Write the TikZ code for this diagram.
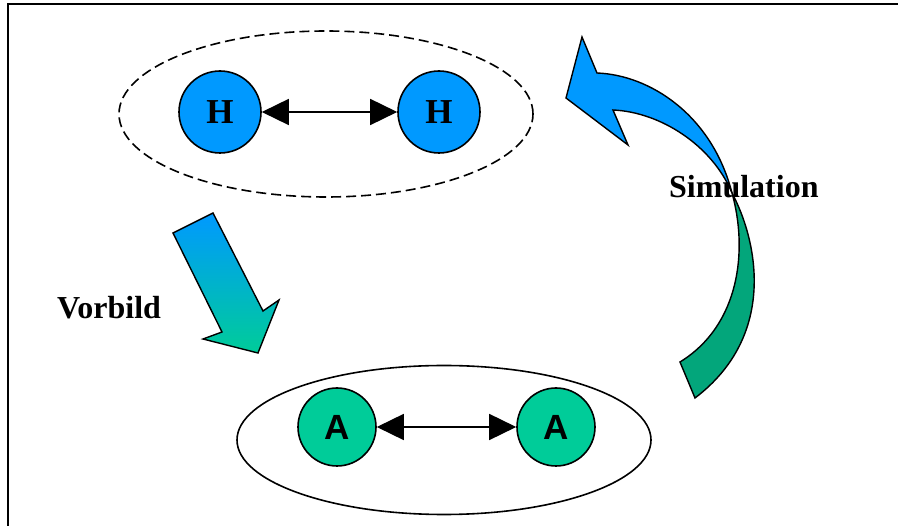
\documentclass[tikz,border=0pt]{standalone}
\usepackage{fontspec}
\setmainfont{Liberation Serif}
\newfontfamily\arialfont{Liberation Sans}
\usetikzlibrary{shapes.geometric,arrows.meta}
\definecolor{hblue}{HTML}{0099FF}
\definecolor{agreen}{HTML}{00CC99}
\definecolor{dgreen}{HTML}{03A67B}
\tikzset{
  hatom/.style={circle,draw=black,line width=1.6pt,fill=hblue,minimum size=82pt,inner sep=0pt,
    font=\fontsize{35}{35}\selectfont\bfseries},
  aatom/.style={circle,draw=black,line width=1.6pt,fill=agreen,minimum size=78pt,inner sep=0pt,
    font=\arialfont\fontsize{35}{35}\selectfont\bfseries},
  dblarrow/.style={line width=1.6pt,{Triangle[length=27pt,width=26pt]}-{Triangle[length=27pt,width=26pt]}},
  group/.style={ellipse,draw=black,line width=1.6pt,inner sep=0pt},
  lbl/.style={font=\fontsize{32}{32}\selectfont\bfseries,inner sep=0pt,anchor=base west},
  bigarrow/.style={draw=black,line width=1.4pt,line join=miter}
}
\begin{document}
\begin{tikzpicture}[x=1pt,y=-1pt]
\useasboundingbox (0,0) rectangle (898,526);
\fill[white] (0,0) rectangle (898,526);
% frame
\draw[line width=2.2pt] (8,526) -- (8,4) -- (898,4);
% groups
\node[group,dash pattern=on 10pt off 5pt,minimum width=414pt,minimum height=166pt] (hgroup) at (326,114) {};
\node[group,minimum width=414pt,minimum height=149pt] (agroup) at (444,440) {};
% atoms
\node[hatom] (h1) at (220,112) {H};
\node[hatom] (h2) at (439,112) {H};
\node[aatom] (a1) at (337,427) {A};
\node[aatom] (a2) at (556,427) {A};
\draw[dblarrow] (h1) -- (h2);
\draw[dblarrow] (a1) -- (a2);
% Vorbild arrow
\shadedraw[bigarrow,top color=hblue,bottom color=agreen]
  (173,233) -- (213,213) -- (263,311) -- (279,300) -- (258,353) -- (203,339) -- (222,332) -- cycle;
% Simulation arrow: green tail
\filldraw[bigarrow,fill=dgreen]
  (732,193) .. controls (757,240) and (778,335) .. (695,398) -- (680,362)
  .. controls (740,325) and (748,250) .. (732,193) -- cycle;
% blue head
\filldraw[bigarrow,fill=hblue]
  (597,73) .. controls (650,75) and (712,115) .. (732,193)
  .. controls (712,145) and (660,112) .. (613,110)
  -- (628,145) -- (566,98) -- (582,37) -- cycle;
% labels
\node[lbl] (vorbild) at (57,319) {Vorbild};
\node[lbl] (simulation) at (669,198) {Simulation};
\end{tikzpicture}
\end{document}
